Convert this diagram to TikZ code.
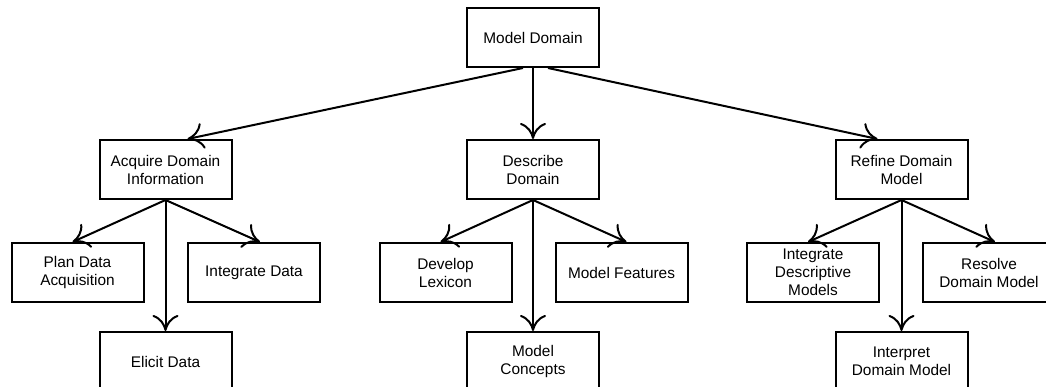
\documentclass[tikz,border=0pt]{standalone}
\usepackage{fontspec}
\setmainfont{Liberation Sans}
\usetikzlibrary{arrows.meta,calc}
\begin{document}
\begin{tikzpicture}[x=1pt,y=-1pt,
  task/.style={draw, line width=2pt, minimum width=132pt, minimum height=59pt,
    inner sep=2pt, align=center, font=\fontsize{15.4}{18}\selectfont},
  link/.style={line width=2pt, -{To[length=16pt,width=26pt]}}]
\useasboundingbox (0,0) rectangle (1046,387);
\clip (0,0) rectangle (1046,387);

% top level
\node[task] (md) at (533,37.5) {Model Domain};

% second level
\node[task] (acq)  at (165.5,169.5) {Acquire Domain\\Information};
\node[task] (desc) at (533,169.5)   {Describe\\Domain};
\node[task] (ref)  at (901.5,169.5) {Refine Domain\\Model};

% third level
\node[task] (plan) at (77.5,272.5)  {Plan Data\\Acquisition};
\node[task] (intd) at (254,272.5)   {Integrate Data};
\node[task] (elic) at (165.5,361.5) {Elicit Data};

\node[task] (lex)  at (445.5,272.5) {Develop\\Lexicon};
\node[task] (feat) at (621.5,272.5) {Model Features};
\node[task] (conc) at (533,361.5)   {Model\\Concepts};

\node[task] (idm)  at (813,272.5)   {Integrate\\Descriptive\\Models};
\node[task] (res)  at (989,272.5)   {Resolve\\Domain Model};
\node[task] (intp) at (901.5,361.5) {Interpret\\Domain Model};

% connectors from the root
\draw[link] ($(md.south)+(-10,0)$) -- ($(acq.north)+(22,0)$);
\draw[link] (md.south) -- (desc.north);
\draw[link] ($(md.south)+(15,0)$) -- ($(ref.north)+(-24,0)$);

% connectors to the leaves
\draw[link] (acq.south) -- ($(plan.north)+(-5,0)$);
\draw[link] (acq.south) -- (elic.north);
\draw[link] (acq.south) -- ($(intd.north)+(6,0)$);

\draw[link] (desc.south) -- ($(lex.north)+(-5,0)$);
\draw[link] (desc.south) -- (conc.north);
\draw[link] (desc.south) -- ($(feat.north)+(5,0)$);

\draw[link] (ref.south) -- ($(idm.north)+(-5,0)$);
\draw[link] (ref.south) -- (intp.north);
\draw[link] (ref.south) -- ($(res.north)+(6,0)$);
\end{tikzpicture}
\end{document}
